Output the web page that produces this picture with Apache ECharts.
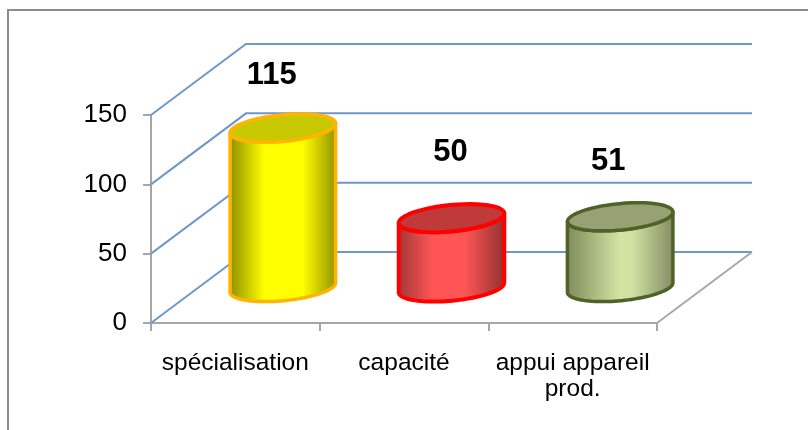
<!DOCTYPE html>
<html>
<head>
<meta charset="utf-8">
<style>html,body{margin:0;padding:0;background:#fff}#c{width:808px;height:430px}</style>
<script src="https://cdn.jsdelivr.net/npm/echarts@6/dist/echarts.min.js"></script>
</head>
<body>
<div id="c"></div>
<script>
var categories = ['spécialisation', 'capacité', 'appui appareil\nprod.'];
var values = [115, 50, 51];
var axisTicks = [0, 50, 100, 150];

var FONT = '"Liberation Sans", Arial, sans-serif';
var DEPTH = [95, -71];
var MID = [47.5, -35.5];
var RX = 53, RY = 13.2, TILT = -5.5 * Math.PI / 180;
var looks = [
  {edge: '#FFB400', width: 3.5, top: '#C8C800', stops: [[0, '#8A8A00'], [0.33, '#FFFF00'], [0.68, '#FFFF00'], [1, '#8F8F00']], label: [-11, -53]},
  {edge: '#FF0000', width: 4, top: '#C03A3A', stops: [[0, '#A03636'], [0.33, '#FF5555'], [0.62, '#FF5555'], [1, '#8F3030']], label: [-1, -66]},
  {edge: '#4F6228', width: 3.5, top: '#97A274', stops: [[0, '#7C8A5A'], [0.5, '#D4E4A4'], [0.62, '#D0E0A0'], [1, '#7F8A62']], label: [-12, -55]}
];

function ellipsePoint(cx, cy, a) {
  var ex = RX * Math.cos(a), ey = RY * Math.sin(a);
  return [cx + ex * Math.cos(TILT) - ey * Math.sin(TILT), cy + ex * Math.sin(TILT) + ey * Math.cos(TILT)];
}
function arc(cx, cy, from, to) {
  var pts = [], n = 48;
  for (var i = 0; i <= n; i++) pts.push(ellipsePoint(cx, cy, from + (to - from) * i / n));
  return pts;
}

function renderWall(params, api) {
  var cs = params.coordSys;
  var y = api.coord([0, api.value(1)])[1];
  return {
    type: 'polyline',
    shape: {points: [[cs.x, y], [cs.x + DEPTH[0], y + DEPTH[1]], [cs.x + cs.width + DEPTH[0], y + DEPTH[1]]]},
    style: {stroke: '#6F98CA', lineWidth: 2, fill: null}
  };
}
function renderFloor(params) {
  var cs = params.coordSys, b = cs.y + cs.height, r = cs.x + cs.width;
  return {
    type: 'line',
    shape: {x1: r, y1: b, x2: r + DEPTH[0], y2: b + DEPTH[1]},
    style: {stroke: '#A6A6A6', lineWidth: 1.8}
  };
}
function renderCylinder(params, api) {
  var i = api.value(0), look = looks[i];
  var base = api.coord([i, 0]), top = api.coord([i, api.value(1)]);
  var cx = base[0] + MID[0], by = base[1] + MID[1], ty = top[1] + MID[1];
  var bodyPts = arc(cx, by, Math.PI, 0).concat(arc(cx, ty, 0, Math.PI));
  return {
    type: 'group',
    children: [
      {type: 'polygon', shape: {points: bodyPts}, style: {
        fill: {type: 'linear', x: 0, y: 0, x2: 1, y2: 0, colorStops: look.stops.map(function (s) { return {offset: s[0], color: s[1]}; })},
        stroke: look.edge, lineWidth: look.width, lineJoin: 'round'}},
      {type: 'polygon', shape: {points: arc(cx, ty, 0, 2 * Math.PI)}, style: {fill: look.top, stroke: look.edge, lineWidth: look.width, lineJoin: 'round'}},
      {type: 'text', x: cx + look.label[0], y: ty + look.label[1], style: {
        text: String(api.value(1)), fill: '#000', font: 'bold 31px ' + FONT, align: 'center', verticalAlign: 'middle'}}
    ]
  };
}

var chart = echarts.init(document.getElementById('c'), null, {renderer: 'canvas'});
chart.setOption({
  animation: false,
  backgroundColor: '#fff',
  graphic: [{type: 'polyline', silent: true, z: -1, shape: {points: [[808, 10], [8, 10], [8, 430]]}, style: {stroke: '#8C8C8C', lineWidth: 2, fill: null}}],
  grid: {left: 151, right: 151, top: 115, bottom: 107},
  xAxis: {
    type: 'category', data: categories,
    axisLine: {lineStyle: {color: '#A6A6A6', width: 2}},
    axisTick: {show: true, length: 8, lineStyle: {color: '#A6A6A6', width: 2}},
    axisLabel: {color: '#000', fontFamily: FONT, fontSize: 24.5, lineHeight: 26, margin: 27, interval: 0}
  },
  yAxis: {
    type: 'value', min: 0, max: 150, interval: 50,
    splitLine: {show: false},
    axisLine: {show: true, lineStyle: {color: '#A6A6A6', width: 2}},
    axisTick: {show: true, length: 8, lineStyle: {color: '#A6A6A6', width: 2}},
    axisLabel: {color: '#000', fontFamily: FONT, fontSize: 26, margin: 24}
  },
  series: [
    {type: 'custom', z: 1, silent: true, renderItem: renderWall, data: axisTicks.map(function (t) { return [0, t]; })},
    {type: 'custom', z: 1, silent: true, renderItem: renderFloor, data: [[0, 0]]},
    {type: 'custom', z: 3, renderItem: renderCylinder, data: values.map(function (v, i) { return [i, v]; })}
  ]
});
</script>
</body>
</html>
